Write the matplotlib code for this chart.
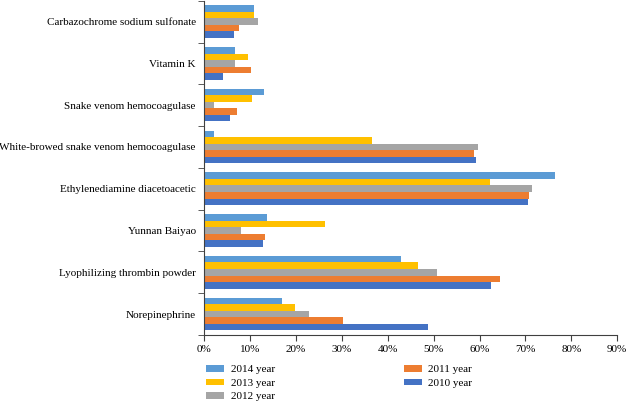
import numpy as np
import matplotlib
matplotlib.use("Agg")
import matplotlib.pyplot as plt
from matplotlib.ticker import FuncFormatter, MultipleLocator

plt.rcParams['font.family'] = ['Liberation Serif', 'DejaVu Serif']

# categories listed bottom to top
drugs = ['Norepinephrine', 'Lyophilizing thrombin powder', 'Yunnan Baiyao',
         'Ethylenediamine diacetoacetic', 'White-browed snake venom hemocoagulase',
         'Snake venom hemocoagulase', 'Vitamin K', 'Carbazochrome sodium sulfonate']

y2014 = [17.0, 42.8, 13.6, 76.4, 2.2, 13.0, 6.8, 10.9]
y2013 = [19.8, 46.7, 26.4, 62.3, 36.5, 10.4, 9.6, 10.9]
y2012 = [22.9, 50.8, 8.0, 71.4, 59.7, 2.2, 6.7, 11.7]
y2011 = [30.2, 64.5, 13.2, 70.7, 58.8, 7.1, 10.3, 7.7]
y2010 = [48.7, 62.5, 12.8, 70.6, 59.2, 5.7, 4.1, 6.5]

series = [('2014 year', y2014, '#5B9BD5'),
          ('2013 year', y2013, '#FFC000'),
          ('2012 year', y2012, '#A5A5A5'),
          ('2011 year', y2011, '#ED7D31'),
          ('2010 year', y2010, '#4472C4')]

fig = plt.figure(figsize=(6.26, 4.03), dpi=100)
ax = fig.add_axes([0.326, 0.169, 0.660, 0.829])

pos = np.arange(len(drugs))
h = 0.156
for i, (name, vals, col) in enumerate(series):
    off = (2 - i) * h
    ax.barh(pos + off, np.array(vals) / 100, height=h, color=col, label=name)

ax.set_xlim(0, 0.9)
ax.set_ylim(-0.5, len(drugs) - 0.5)
ax.xaxis.set_major_locator(MultipleLocator(0.1))
ax.xaxis.set_major_formatter(FuncFormatter(lambda v, p: f'{v*100:.0f}%'))
ax.set_yticks(pos)
ax.set_yticklabels(drugs)
ax.set_yticks(np.arange(-0.5, len(drugs), 1), minor=True)
ax.tick_params(axis='y', which='major', length=0, pad=6, labelsize=8)
ax.tick_params(axis='y', which='minor', length=4, color='#404040')
ax.tick_params(axis='x', length=4, color='#404040', labelsize=8, pad=3)
for s in ['top', 'right']:
    ax.spines[s].set_visible(False)
for s in ['left', 'bottom']:
    ax.spines[s].set_color('#404040')

ax.legend(loc='upper left', bbox_to_anchor=(-0.005, -0.077), ncol=2, frameon=False,
          fontsize=8, handlelength=1.6, handleheight=0.55, columnspacing=11.6,
          labelspacing=0.38, handletextpad=0.6, borderaxespad=0)

fig.savefig('out.png', dpi=100)
